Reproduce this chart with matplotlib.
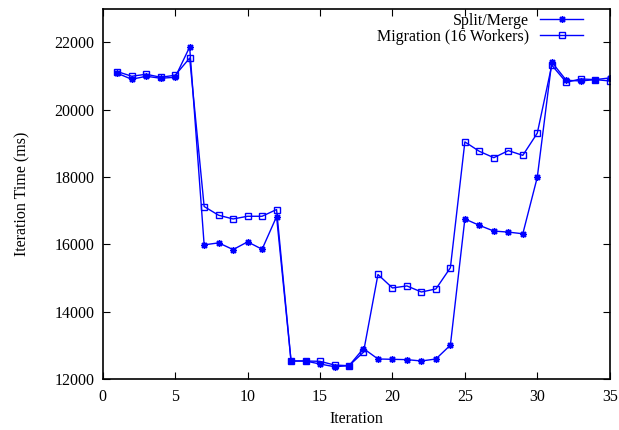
import matplotlib
matplotlib.use("Agg")
import matplotlib.pyplot as plt

iterations = list(range(1, 36))
split_merge = [21080, 20900, 20990, 20930, 20960, 21860, 15980, 16040, 15840, 16070,
               15850, 16820, 12530, 12530, 12440, 12360, 12390, 12900, 12590, 12580,
               12570, 12530, 12590, 13000, 16750, 16560, 16390, 16360, 16310, 17990,
               21410, 20870, 20850, 20890, 20940]
migration = [21130, 20990, 21050, 20960, 21020, 21530, 17120, 16860, 16750, 16830,
             16830, 17030, 12530, 12530, 12520, 12410, 12390, 12790, 15100, 14700,
             14760, 14580, 14670, 15300, 19040, 18760, 18570, 18780, 18640, 19300,
             21320, 20810, 20910, 20890, 20850]
xticks = [0, 5, 10, 15, 20, 25, 30, 35]
yticks = [12000, 14000, 16000, 18000, 20000, 22000]

plt.rcParams["font.family"] = ["Liberation Serif", "DejaVu Serif"]
plt.rcParams["font.size"] = 11.5

fig = plt.figure(figsize=(6.19, 4.30), dpi=100)
ax = fig.add_axes([0.166, 0.119, 0.819, 0.861])

blue = "#0000ff"
ax.plot(iterations, split_merge, color=blue, lw=1, marker=(8, 2, 0), ms=5,
        mew=1, label="Split/Merge")
ax.plot(iterations, migration, color=blue, lw=1, marker="s", ms=4.5,
        mfc="none", mew=1, label="Migration (16 Workers)")

ax.set_xlim(0, 35)
ax.set_ylim(12000, 23000)
ax.set_xticks(xticks)
ax.set_yticks(yticks)
ax.tick_params(direction="in", top=True, right=True, length=5, width=0.8)
ax.tick_params(axis="y", pad=6)
ax.tick_params(axis="x", pad=7)
for s in ax.spines.values():
    s.set_linewidth(1.2)
ax.set_xlabel("Iteration", labelpad=5)
ax.set_ylabel("Iteration Time (ms)", labelpad=17)
ax.legend(loc="upper right", bbox_to_anchor=(0.948, 0.988), frameon=False,
          markerfirst=False, handlelength=2.7, labelspacing=0.0,
          borderaxespad=0, borderpad=0, handletextpad=0.7)

fig.savefig("out.png", dpi=100)
